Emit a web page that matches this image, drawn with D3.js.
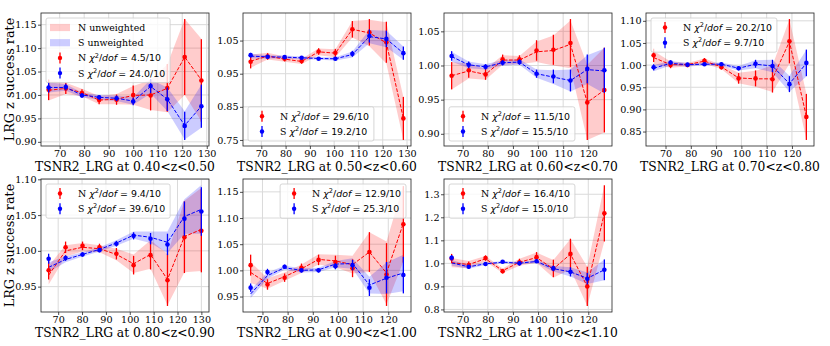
<!DOCTYPE html>
<html>
<head>
<meta charset="utf-8">
<script src="https://cdn.jsdelivr.net/npm/d3@7"></script>
<style>
  body { margin: 0; background: #fff; }
  text { font-family: "DejaVu Serif", serif; fill: #000; }
</style>
</head>
<body>
<svg id="fig" width="830" height="346"></svg>
<script>
// redshift bins, one panel each
const zBins = ["0.40<z<0.50", "0.50<z<0.60", "0.60<z<0.70", "0.70<z<0.80",
               "0.80<z<0.90", "0.90<z<1.00", "1.00<z<1.10"];
const chi2N = ["4.5", "29.6", "11.5", "20.2", "9.4", "12.9", "16.4"];
const chi2S = ["24.0", "19.2", "15.5", "9.7", "39.6", "25.3", "15.0"];

// TSNR2_LRG bin centres
const tsnr = [
  [65.5, 72.5, 79.1, 86.1, 93.2, 100.0, 107.1, 113.9, 121.0, 127.8],
  [65.6, 72.6, 79.6, 86.6, 93.6, 100.5, 107.5, 114.5, 121.5, 128.5],
  [65.6, 72.4, 79.1, 85.9, 92.6, 99.4, 106.1, 112.9, 119.6, 126.4],
  [65.3, 72.0, 78.7, 85.4, 92.1, 98.9, 105.6, 112.3, 119.0, 125.7],
  [66.0, 73.1, 80.2, 87.3, 94.4, 101.6, 108.7, 115.8, 122.9, 130.0],
  [65.3, 72.0, 78.8, 85.5, 92.3, 99.0, 105.8, 112.5, 119.3, 126.0],
  [65.6, 72.4, 79.1, 85.9, 92.6, 99.4, 106.1, 112.9, 119.6, 126.4]
];

// North: weighted rate, error, unweighted rate
const nRate = [
  [1.011, 1.014, 1.004, 0.989, 0.990, 1.000, 0.999, 1.015, 1.081, 1.031],
  [0.986, 1.002, 0.995, 0.988, 1.017, 1.013, 1.084, 1.075, 1.045, 0.815],
  [0.985, 0.993, 0.987, 1.009, 1.009, 1.022, 1.023, 1.033, 0.946, 0.964],
  [1.022, 1.000, 1.000, 1.010, 0.995, 0.970, 0.970, 0.968, 1.054, 0.883],
  [0.973, 1.005, 1.007, 1.005, 0.996, 0.980, 0.994, 0.959, 1.019, 1.028],
  [1.010, 0.973, 0.986, 1.005, 1.020, 1.016, 1.004, 1.035, 0.992, 1.088],
  [1.021, 0.993, 1.023, 0.966, 1.005, 1.027, 0.978, 1.041, 0.900, 1.217]
];
const nErr = [
  [0.022, 0.012, 0.008, 0.009, 0.011, 0.020, 0.032, 0.051, 0.081, 0.088],
  [0.020, 0.010, 0.008, 0.008, 0.010, 0.012, 0.025, 0.040, 0.062, 0.065],
  [0.020, 0.011, 0.008, 0.007, 0.006, 0.015, 0.022, 0.035, 0.055, 0.062],
  [0.015, 0.007, 0.004, 0.006, 0.005, 0.012, 0.018, 0.030, 0.050, 0.052],
  [0.013, 0.008, 0.006, 0.005, 0.008, 0.013, 0.020, 0.036, 0.050, 0.058],
  [0.020, 0.010, 0.008, 0.008, 0.010, 0.012, 0.017, 0.038, 0.060, 0.073],
  [0.020, 0.015, 0.012, 0.010, 0.015, 0.022, 0.038, 0.066, 0.085, 0.122]
];
const nUnw = [
  [1.010, 1.014, 1.005, 0.989, 0.991, 0.999, 1.000, 1.014, 1.081, 1.032],
  [0.988, 1.003, 0.994, 0.987, 1.016, 1.012, 1.084, 1.073, 1.043, 0.815],
  [0.985, 0.992, 0.987, 1.008, 1.008, 1.020, 1.022, 1.031, 0.946, 0.964],
  [1.017, 1.001, 1.001, 1.009, 0.996, 0.971, 0.969, 0.969, 1.053, 0.884],
  [0.966, 1.000, 1.005, 1.003, 0.995, 0.982, 0.995, 0.960, 1.020, 1.030],
  [0.996, 0.975, 0.988, 1.003, 1.021, 1.018, 1.011, 1.035, 0.995, 1.090],
  [1.003, 0.995, 1.020, 0.968, 1.005, 1.025, 0.976, 1.040, 0.900, 1.218]
];

// South: weighted rate, error, unweighted rate
const sRate = [
  [1.016, 1.017, 0.999, 0.995, 0.993, 0.986, 1.019, 0.991, 0.934, 0.976],
  [1.006, 1.001, 1.000, 0.998, 0.995, 0.995, 1.010, 1.064, 1.055, 1.012],
  [1.014, 1.001, 0.998, 1.004, 1.005, 0.988, 0.984, 0.978, 0.995, 0.993],
  [0.995, 1.006, 1.001, 1.002, 1.002, 0.993, 1.003, 0.998, 0.957, 1.005],
  [0.989, 0.990, 0.995, 1.001, 1.010, 1.021, 1.017, 1.009, 1.045, 1.055],
  [0.967, 0.997, 1.007, 1.000, 1.000, 1.008, 1.010, 0.967, 0.986, 0.991],
  [1.024, 0.985, 0.997, 1.007, 1.000, 1.009, 0.978, 0.963, 0.933, 0.972]
];
const sErr = [
  [0.011, 0.007, 0.005, 0.005, 0.006, 0.008, 0.015, 0.025, 0.030, 0.046],
  [0.007, 0.005, 0.005, 0.004, 0.004, 0.005, 0.009, 0.020, 0.025, 0.020],
  [0.007, 0.005, 0.004, 0.004, 0.004, 0.006, 0.010, 0.016, 0.021, 0.033],
  [0.007, 0.005, 0.004, 0.003, 0.004, 0.005, 0.009, 0.014, 0.018, 0.030],
  [0.007, 0.004, 0.003, 0.003, 0.004, 0.005, 0.008, 0.015, 0.024, 0.034],
  [0.008, 0.006, 0.004, 0.004, 0.004, 0.006, 0.010, 0.016, 0.030, 0.035],
  [0.012, 0.008, 0.005, 0.005, 0.005, 0.007, 0.012, 0.020, 0.025, 0.045]
];
const sUnw = [
  [1.016, 1.016, 1.000, 0.995, 0.993, 0.987, 1.018, 0.991, 0.935, 0.976],
  [1.003, 1.001, 1.000, 0.998, 0.996, 0.995, 1.008, 1.062, 1.055, 1.012],
  [1.013, 1.001, 0.998, 1.004, 1.005, 0.988, 0.983, 0.978, 0.994, 0.992],
  [0.993, 1.004, 1.001, 1.002, 1.002, 0.993, 1.002, 0.998, 0.958, 1.004],
  [0.977, 0.988, 0.995, 1.002, 1.011, 1.022, 1.019, 1.012, 1.048, 1.058],
  [0.955, 0.990, 1.005, 1.000, 1.001, 1.012, 1.013, 0.972, 0.985, 0.995],
  [1.002, 0.985, 0.998, 1.005, 1.001, 1.008, 0.977, 0.963, 0.935, 0.972]
];

// tick labels
const xTicks = [70, 80, 90, 100, 110, 120, 130];
const yTicks = [
  [0.90, 0.95, 1.00, 1.05, 1.10, 1.15],
  [0.75, 0.85, 0.95, 1.05],
  [0.90, 0.95, 1.00, 1.05],
  [0.85, 0.90, 0.95, 1.00, 1.05, 1.10],
  [0.95, 1.00, 1.05, 1.10],
  [0.95, 1.00, 1.05, 1.10, 1.15],
  [0.8, 0.9, 1.0, 1.1, 1.2, 1.3]
];
const yFmt = [".2f", ".2f", ".2f", ".2f", ".2f", ".2f", ".1f"];
const legendLoc = ["upper left", "lower left", "lower left", "upper left",
                   "upper left", "upper right", "upper left"];

// layout
const colX = [41, 243, 444, 646];
const rowY = [13, 179];
const pw = 168, ph = 133;

const svg = d3.select("#fig");

zBins.forEach((zb, i) => {
  const left = colX[i % 4], top = rowY[Math.floor(i / 4)];
  const xs = tsnr[i];

  // matplotlib-like 5% margins
  const xe = d3.extent(xs);
  const xpad = (xe[1] - xe[0]) * 0.05;
  const x = d3.scaleLinear().domain([xe[0] - xpad, xe[1] + xpad]).range([left, left + pw]);

  const lows = [], highs = [];
  xs.forEach((_, k) => {
    lows.push(nRate[i][k] - nErr[i][k], nUnw[i][k] - nErr[i][k], sRate[i][k] - sErr[i][k], sUnw[i][k] - sErr[i][k]);
    highs.push(nRate[i][k] + nErr[i][k], nUnw[i][k] + nErr[i][k], sRate[i][k] + sErr[i][k], sUnw[i][k] + sErr[i][k]);
  });
  const y0 = d3.min(lows), y1 = d3.max(highs);
  const ypad = (y1 - y0) * 0.05;
  const y = d3.scaleLinear().domain([y0 - ypad, y1 + ypad]).range([top + ph, top]);

  const g = svg.append("g");
  const clipId = "clip" + i;
  g.append("clipPath").attr("id", clipId)
    .append("rect").attr("x", left).attr("y", top).attr("width", pw).attr("height", ph);

  // grid
  const xt = xTicks.filter(t => t >= x.domain()[0] && t <= x.domain()[1]);
  const yt = yTicks[i];
  g.selectAll(".gx").data(xt).join("line")
    .attr("x1", d => x(d)).attr("x2", d => x(d))
    .attr("y1", top).attr("y2", top + ph)
    .attr("stroke", "#dadada").attr("stroke-width", 1);
  g.selectAll(".gy").data(yt).join("line")
    .attr("x1", left).attr("x2", left + pw)
    .attr("y1", d => y(d)).attr("y2", d => y(d))
    .attr("stroke", "#dadada").attr("stroke-width", 1);

  const plot = g.append("g").attr("clip-path", `url(#${clipId})`);

  const series = [
    { rate: nRate[i], err: nErr[i], unw: nUnw[i], color: "red" },
    { rate: sRate[i], err: sErr[i], unw: sUnw[i], color: "blue" }
  ];

  // unweighted bands
  series.forEach(s => {
    const area = d3.area()
      .x((d, k) => x(xs[k]))
      .y0((d, k) => y(s.unw[k] - s.err[k]))
      .y1((d, k) => y(s.unw[k] + s.err[k]));
    plot.append("path").datum(xs).attr("d", area)
      .attr("fill", s.color).attr("fill-opacity", 0.2);
  });

  // unweighted dashed lines
  series.forEach(s => {
    const line = d3.line().x((d, k) => x(xs[k])).y((d, k) => y(s.unw[k]));
    plot.append("path").datum(xs).attr("d", line)
      .attr("fill", "none").attr("stroke", s.color)
      .attr("stroke-width", 1).attr("stroke-dasharray", "3.7,1.6");
  });

  // weighted points with error bars
  series.forEach(s => {
    plot.selectAll(null).data(xs).join("line")
      .attr("x1", d => x(d)).attr("x2", d => x(d))
      .attr("y1", (d, k) => y(s.rate[k] - s.err[k]))
      .attr("y2", (d, k) => y(s.rate[k] + s.err[k]))
      .attr("stroke", s.color).attr("stroke-width", 1.3);
    plot.selectAll(null).data(xs).join("circle")
      .attr("cx", d => x(d)).attr("cy", (d, k) => y(s.rate[k]))
      .attr("r", 2.3).attr("fill", s.color);
  });

  // axes
  const ax = g.append("g").attr("transform", `translate(0,${top + ph})`)
    .call(d3.axisBottom(x).tickValues(xt).tickSize(3).tickPadding(1));
  const ay = g.append("g").attr("transform", `translate(${left},0)`)
    .call(d3.axisLeft(y).tickValues(yt).tickFormat(d3.format(yFmt[i])).tickSize(3).tickPadding(1.5));
  [ax, ay].forEach(a => {
    a.select(".domain").remove();
    a.selectAll("line").attr("stroke", "#222").attr("stroke-width", 0.8);
    a.selectAll("text").attr("font-family", "DejaVu Serif").attr("font-size", 9.6).attr("fill", "#000");
  });

  g.append("rect").attr("x", left).attr("y", top).attr("width", pw).attr("height", ph)
    .attr("fill", "none").attr("stroke", "#222").attr("stroke-width", 0.8);

  // labels
  g.append("text").attr("x", left + pw / 2).attr("y", top + ph + 25)
    .attr("text-anchor", "middle").attr("font-size", 12.3)
    .text("TSNR2_LRG at " + zb);
  if (i % 4 === 0) {
    g.append("text")
      .attr("transform", `translate(13.5,${top + ph / 2}) rotate(-90)`)
      .attr("text-anchor", "middle").attr("font-size", 12.8)
      .text("LRG z success rate");
  }

  // legend
  const entries = [];
  if (i === 0) {
    entries.push({ kind: "patch", color: "red", label: "N unweighted" });
    entries.push({ kind: "patch", color: "blue", label: "S unweighted" });
  }
  entries.push({ kind: "err", color: "red", hemi: "N", chi: chi2N[i] });
  entries.push({ kind: "err", color: "blue", hemi: "S", chi: chi2S[i] });
  drawLegend(g, entries, legendLoc[i], left, top);
});

function drawLegend(g, entries, loc, left, top) {
  const fs = 9.4, pitch = 15.2, pad = 4, hLen = 20, hGap = 8;
  const lg = g.append("g");
  const frame = lg.append("rect");
  const items = lg.append("g");
  entries.forEach((e, j) => {
    const cy = pad + 5.5 + j * pitch;
    if (e.kind === "patch") {
      items.append("rect").attr("x", pad).attr("y", cy - 3.6).attr("width", hLen).attr("height", 7.2)
        .attr("fill", e.color).attr("fill-opacity", 0.2);
    } else {
      items.append("line").attr("x1", pad + hLen / 2).attr("x2", pad + hLen / 2)
        .attr("y1", cy - 5.5).attr("y2", cy + 5.5)
        .attr("stroke", e.color).attr("stroke-width", 1.3);
      items.append("circle").attr("cx", pad + hLen / 2).attr("cy", cy).attr("r", 2.2).attr("fill", e.color);
    }
    const t = items.append("text").attr("x", pad + hLen + hGap).attr("y", cy + 3.5).attr("font-size", fs);
    if (e.kind === "patch") {
      t.text(e.label);
    } else {
      t.append("tspan").text(e.hemi + " ");
      t.append("tspan").attr("font-family", "DejaVu Sans").attr("font-style", "italic").text("χ");
      t.append("tspan").attr("font-family", "DejaVu Sans").attr("font-size", fs * 0.7).attr("dy", -3.8).text("2");
      t.append("tspan").attr("font-family", "DejaVu Sans").attr("dy", 3.8).text("/");
      t.append("tspan").attr("font-family", "DejaVu Sans").attr("font-style", "italic").text("dof");
      t.append("tspan").attr("font-family", "DejaVu Sans").text(" = " + e.chi + "/10");
    }
  });
  const tw = d3.max(items.selectAll("text").nodes(), n => n.getComputedTextLength());
  const w = pad + hLen + hGap + tw + pad + 1;
  const h = pad * 2 + 11 + (entries.length - 1) * pitch;
  frame.attr("width", w).attr("height", h).attr("rx", 2)
    .attr("fill", "#fff").attr("fill-opacity", 0.8)
    .attr("stroke", "#cccccc").attr("stroke-width", 0.8);
  let bx = left + 5, by = top + 5;
  if (loc.includes("right")) bx = left + pw - 5 - w;
  if (loc.includes("lower")) by = top + ph - 5 - h;
  lg.attr("transform", `translate(${bx},${by})`);
}
</script>
</body>
</html>
